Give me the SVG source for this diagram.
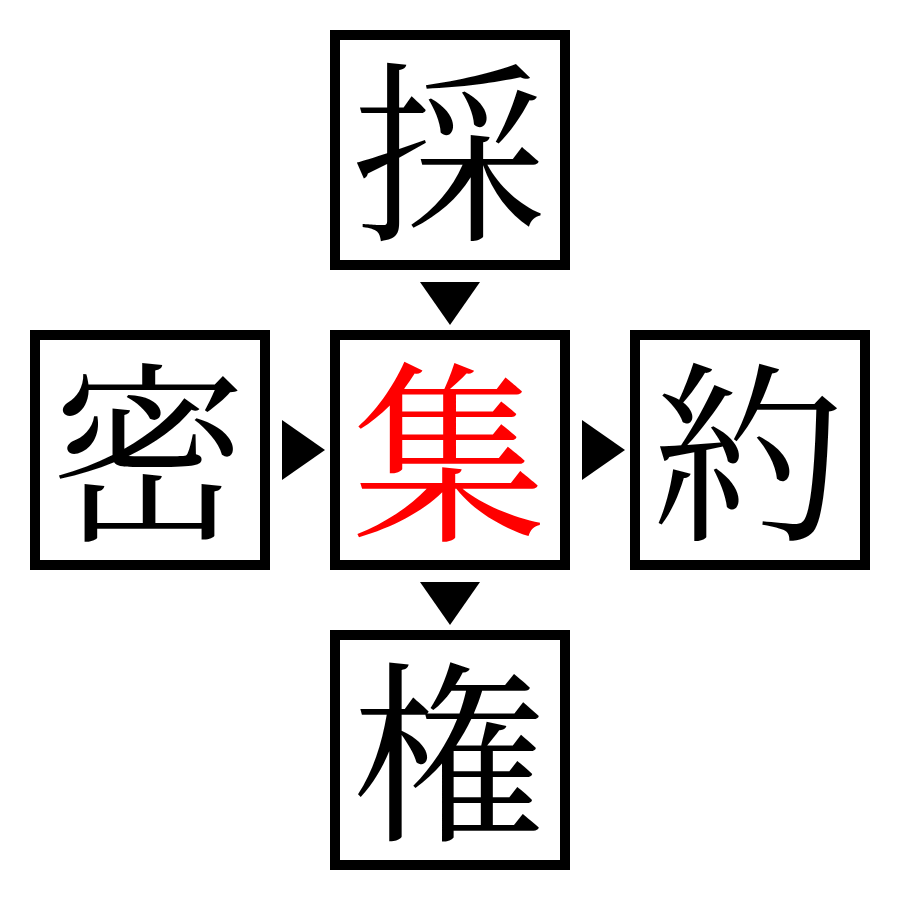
<svg xmlns="http://www.w3.org/2000/svg" width="900" height="900" viewBox="0 0 900 900">
<style>
.box{fill:#fff;stroke:#000;stroke-width:10}
.ch{font-family:"Noto Serif CJK JP","Noto Serif CJK SC","Noto Sans CJK JP",serif;font-size:194px;text-anchor:middle;dominant-baseline:central;fill:#000}
.red{fill:#f00}
.arr{fill:#000}
</style>
<rect width="900" height="900" fill="#fff"/>
<g id="node-top"><rect class="box" x="335" y="35" width="230" height="230"/><text class="ch" x="449" y="142">採</text></g>
<g id="node-left"><rect class="box" x="35" y="335" width="230" height="230"/><text class="ch" x="149" y="442">密</text></g>
<g id="node-center"><rect class="box" x="335" y="335" width="230" height="230"/><text class="ch red" x="449" y="442">集</text></g>
<g id="node-right"><rect class="box" x="635" y="335" width="230" height="230"/><text class="ch" x="749" y="442">約</text></g>
<g id="node-bottom"><rect class="box" x="335" y="635" width="230" height="230"/><text class="ch" x="449" y="742">権</text></g>
<g id="connectors">
<polygon class="arr" points="420,282 480,282 450,325"/>
<polygon class="arr" points="282,420 282,480 325,450"/>
<polygon class="arr" points="582,420 582,480 625,450"/>
<polygon class="arr" points="420,582 480,582 450,625"/>
</g>
</svg>
